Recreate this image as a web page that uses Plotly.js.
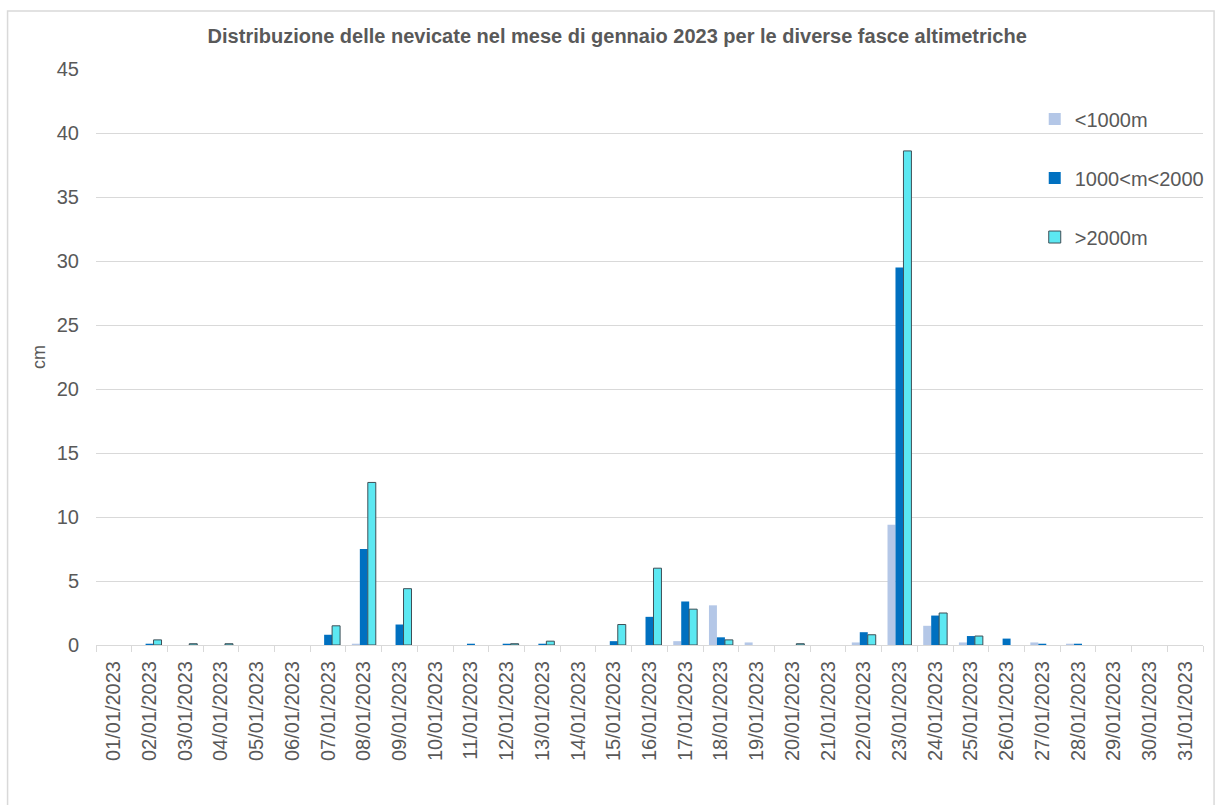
<!DOCTYPE html>
<html>
<head>
<meta charset="utf-8">
<script src="https://cdn.plot.ly/plotly-3.0.1.min.js"></script>
<style>
  html, body { margin: 0; padding: 0; background: #ffffff; }
  #chart { width: 1215px; height: 805px; }
</style>
</head>
<body>
<div id="chart"></div>
<script>
// Giorni di gennaio 2023
const days = [
  "01/01/2023","02/01/2023","03/01/2023","04/01/2023","05/01/2023","06/01/2023","07/01/2023",
  "08/01/2023","09/01/2023","10/01/2023","11/01/2023","12/01/2023","13/01/2023","14/01/2023",
  "15/01/2023","16/01/2023","17/01/2023","18/01/2023","19/01/2023","20/01/2023","21/01/2023",
  "22/01/2023","23/01/2023","24/01/2023","25/01/2023","26/01/2023","27/01/2023","28/01/2023",
  "29/01/2023","30/01/2023","31/01/2023"
];

// Neve fresca giornaliera (cm) per fascia altimetrica
const below1000 = [0,0,0,0,0,0,0,0.1,0,0,0,0,0,0,0,0,0.3,3.1,0.2,0,0,0.2,9.4,1.5,0.2,0,0.2,0.1,0,0,0];
const from1000to2000 = [0,0.1,0,0,0,0,0.8,7.5,1.6,0,0.1,0.1,0.1,0,0.3,2.2,3.4,0.6,0,0,0,1.0,29.5,2.3,0.7,0.5,0.1,0.1,0,0,0];
const above2000 = [0,0.4,0.1,0.1,0,0,1.5,12.7,4.4,0,0,0.1,0.3,0,1.6,6.0,2.8,0.4,0,0.1,0,0.8,38.6,2.5,0.7,0,0,0,0,0,0];

const seriesNames = ["<1000m", "1000<m<2000", ">2000m"];
const yTicks = [0, 5, 10, 15, 20, 25, 30, 35, 40, 45];

const FONT = "Liberation Sans, Arial, sans-serif";
const TEXT = "#595959";
const GRID = "#d9d9d9";

// days without snow get no bar (so outlined bars leave no flat line)
const noZero = arr => arr.map(v => (v === 0 ? null : v));

const traces = [
  {
    type: "bar", name: seriesNames[0], x: days, y: noZero(below1000),
    marker: { color: "#b4c7e7", line: { width: 0 } },
    legendgroup: "a"
  },
  {
    type: "bar", name: seriesNames[1], x: days, y: noZero(from1000to2000),
    marker: { color: "#0070c0", line: { width: 0 } },
    legendgroup: "b"
  },
  {
    type: "bar", name: seriesNames[2], x: days, y: noZero(above2000),
    marker: { color: "#5ce8f2", line: { color: "#3f4f57", width: 1 } },
    legendgroup: "c"
  }
];

const layout = {
  width: 1215,
  height: 805,
  paper_bgcolor: "#ffffff",
  plot_bgcolor: "#ffffff",
  font: { family: FONT, color: TEXT, size: 20 },
  margin: { l: 96, r: 5, t: 69, b: 160 },
  barmode: "group",
  bargap: 0.33,
  bargroupgap: 0,
  showlegend: true,
  title: {
    text: "<b>Distribuzione delle nevicate nel mese di gennaio 2023 per le diverse fasce altimetriche</b>",
    font: { family: FONT, size: 20, color: TEXT },
    xref: "container", x: 0.508, xanchor: "center",
    yref: "container", y: 0.955, yanchor: "middle"
  },
  xaxis: {
    type: "category",
    tickangle: -90,
    tickson: "boundaries",
    ticks: "outside",
    ticklen: 6,
    tickcolor: GRID,
    tickwidth: 1,
    ticklabelstandoff: 7,
    showline: true,
    linecolor: GRID,
    linewidth: 1,
    showgrid: false,
    tickfont: { family: FONT, size: 20, color: TEXT },
    automargin: false
  },
  yaxis: {
    range: [0, 45],
    tickvals: yTicks,
    ticktext: yTicks.map(String),
    showgrid: true,
    gridcolor: GRID,
    gridwidth: 1,
    zeroline: false,
    showline: false,
    ticks: "",
    ticklabelstandoff: 16,
    tickfont: { family: FONT, size: 20, color: TEXT },
    title: { text: "cm", font: { family: FONT, size: 18, color: TEXT }, standoff: 6 },
    automargin: false
  },
  legend: {
    x: 0.848, xanchor: "left",
    y: 0.947, yanchor: "top",
    bgcolor: "rgba(255,255,255,0)",
    borderwidth: 0,
    font: { family: FONT, size: 20, color: TEXT },
    tracegroupgap: 30,
    traceorder: "grouped"
  },
  shapes: [
    {
      type: "rect", xref: "paper", yref: "paper",
      x0: (7 - 96) / 1114, x1: 1.01, y0: -0.3, y1: (645 - 11) / 576,
      line: { color: GRID, width: 1.5 }, fillcolor: "rgba(0,0,0,0)", layer: "below"
    }
  ]
};

Plotly.newPlot("chart", traces, layout, { staticPlot: true, displayModeBar: false });
</script>
</body>
</html>
